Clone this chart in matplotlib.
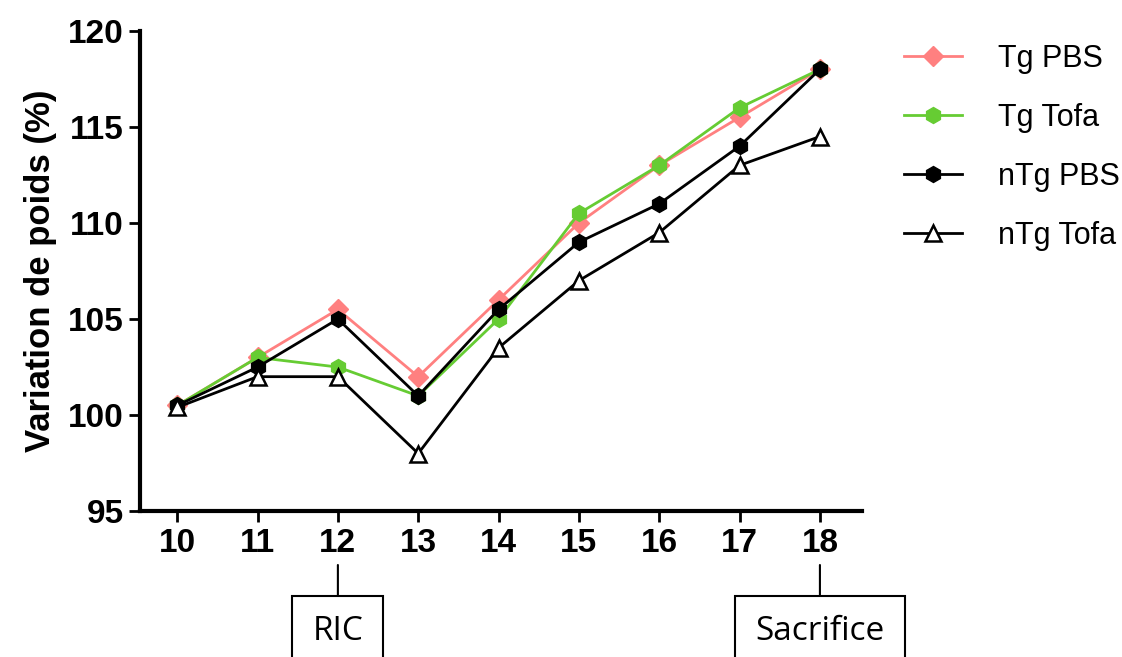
import matplotlib
matplotlib.use("Agg")
import matplotlib.pyplot as plt

# %% DATA
jours = [10, 11, 12, 13, 14, 15, 16, 17, 18]
tg_pbs = [100.5, 103, 105.5, 102, 106, 110, 113, 115.5, 118]
tg_tofa = [100.5, 103, 102.5, 101, 105, 110.5, 113, 116, 118]
ntg_pbs = [100.5, 102.5, 105, 101, 105.5, 109, 111, 114, 118]
ntg_tofa = [100.4, 102, 102, 98, 103.5, 107, 109.5, 113, 114.5]
evenements = {12: "RIC", 18: "Sacrifice"}

# %% PLOT
plt.rcParams["font.family"] = ["Liberation Sans", "DejaVu Sans"]
fig = plt.figure(figsize=(11.22, 6.57), dpi=100)
ax = fig.add_axes([0.125, 0.222, 0.643, 0.731])

ax.plot(jours, tg_pbs, color="#FF8080", lw=2, marker="D", ms=10.5, label="Tg PBS")
ax.plot(jours, tg_tofa, color="#66CC33", lw=2, marker="h", ms=11.5, label="Tg Tofa")
ax.plot(jours, ntg_pbs, color="black", lw=2, marker="h", ms=11.5, label="nTg PBS")
ax.plot(jours, ntg_tofa, color="black", lw=2, marker="^", ms=11.5,
        markerfacecolor="white", markeredgewidth=1.8, label="nTg Tofa")

ax.set_xlim(9.54, 18.52)
ax.set_ylim(95, 120)
ax.set_xticks(jours)
ax.set_yticks(range(95, 121, 5))
ax.set_ylabel("Variation de poids (%)", fontsize=25, fontweight="bold", labelpad=8)

for s in ["top", "right"]:
    ax.spines[s].set_visible(False)
for s in ["left", "bottom"]:
    ax.spines[s].set_linewidth(3)
ax.tick_params(axis="both", direction="out", length=8, width=2, labelsize=24, pad=4)
for lab in ax.get_xticklabels() + ax.get_yticklabels():
    lab.set_fontweight("bold")

leg = ax.legend(loc="upper left", bbox_to_anchor=(1.02, 1.03), frameon=False,
                fontsize=22, labelspacing=0.95, handlelength=1.9, handletextpad=1.2)

# annotations sous l'axe
for jour, texte in evenements.items():
    ax.annotate(texte, xy=(jour, 1 - 565 / 657), xycoords=("data", "figure fraction"),
                xytext=(jour, 1 - 632 / 657), textcoords=("data", "figure fraction"),
                ha="center", va="center", fontsize=24, family="Open Sans",
                bbox=dict(boxstyle="square,pad=0.6", fc="white", ec="black", lw=1.5),
                arrowprops=dict(arrowstyle="-", color="black", lw=1.5, shrinkA=0, shrinkB=0))

fig.savefig("out.png", dpi=100)
